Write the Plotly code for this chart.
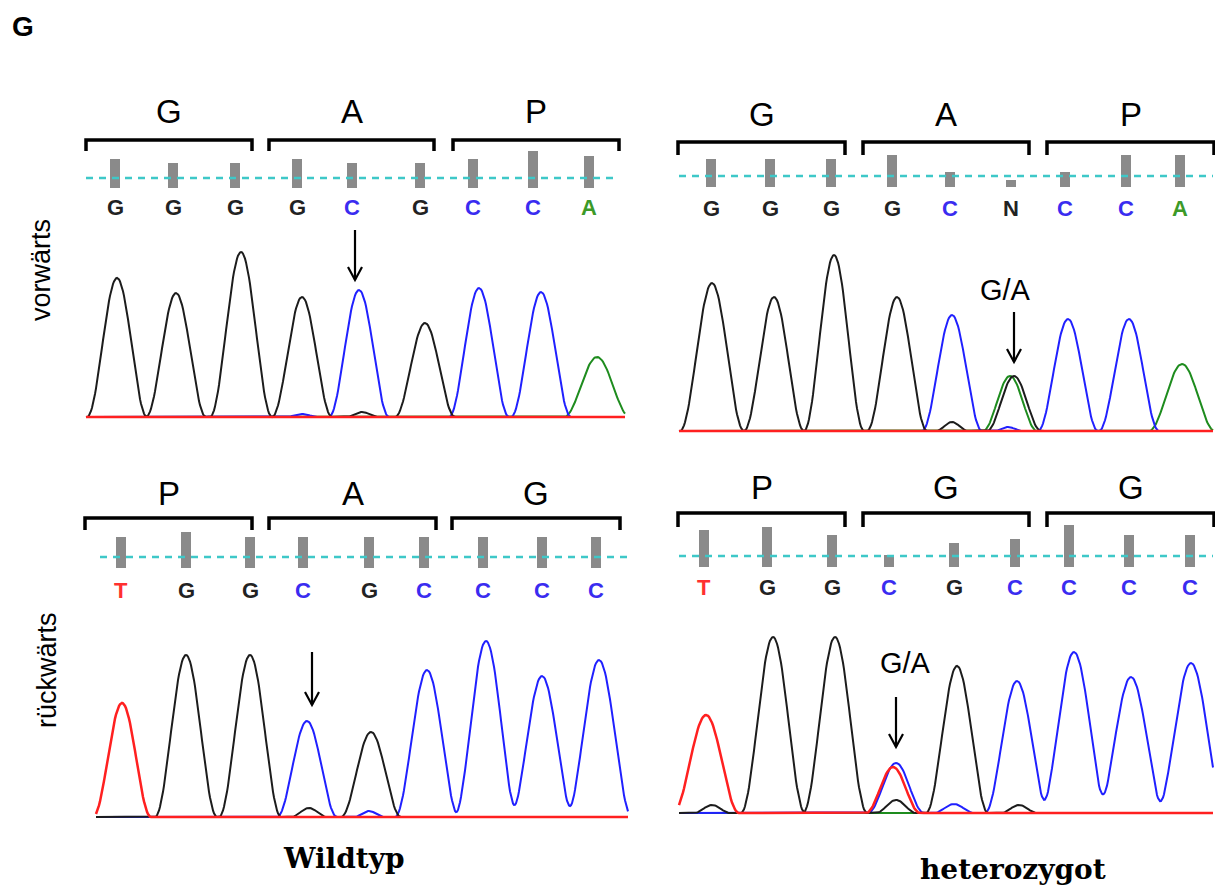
import numpy as np
import plotly.graph_objects as go

W, H = 1215, 888

# ---------------- data ----------------
# forward strand, wild type (top left)
fw_wt_bases = ["G", "G", "G", "G", "C", "G", "C", "C", "A"]
fw_wt_scan = [115, 173, 235, 297, 352, 420, 473, 533, 589]
fw_wt_quality = [29, 25, 25, 29, 25, 25, 29, 37, 32]
fw_wt_codons = ["G", "A", "P"]
fw_wt_codon_span = [[85, 253], [268, 435], [452, 620]]
# peaks: [scan position, signal, half width]
fw_wt_G = [[117, 139, 30], [176, 124, 30], [241, 165, 31], [302, 120, 30], [425, 94, 30], [362, 5, 16]]
fw_wt_C = [[359, 127, 30], [479, 129, 30], [541, 125, 30], [302, 3, 16]]
fw_wt_A = [[597, 60, 33]]
fw_wt_T = []

# forward strand, heterozygous (top right)
fw_het_bases = ["G", "G", "G", "G", "C", "N", "C", "C", "A"]
fw_het_scan = [711, 770, 831, 892, 950, 1011, 1065, 1126, 1180]
fw_het_quality = [28, 28, 28, 32, 15, 7, 15, 32, 32]
fw_het_codons = ["G", "A", "P"]
fw_het_codon_span = [[677, 846], [862, 1030], [1046, 1215]]
fw_het_G = [[712, 148, 32], [774, 134, 30], [834, 176, 30], [897, 134, 30], [1014, 55, 27], [952, 9, 16]]
fw_het_C = [[952, 116, 30], [1068, 112, 30], [1129, 112, 30], [1008, 4, 14]]
fw_het_A = [[1010, 55, 27], [1182, 67, 33]]
fw_het_T = []

# reverse strand, wild type (bottom left)
rv_wt_bases = ["T", "G", "G", "C", "G", "C", "C", "C", "C"]
rv_wt_scan = [121, 186, 250, 303, 369, 424, 483, 542, 596]
rv_wt_quality = [31, 36, 31, 31, 31, 31, 31, 31, 31]
rv_wt_codons = ["P", "A", "G"]
rv_wt_codon_span = [[84, 253], [268, 437], [451, 621]]
rv_wt_G = [[186, 162, 31], [250, 162, 31], [371, 85, 30], [309, 9, 18]]
rv_wt_C = [[307, 96, 30], [427, 147, 32], [486, 176, 32], [542, 141, 32], [599, 157, 33], [369, 6, 15]]
rv_wt_A = []
rv_wt_T = [[122, 114, 29]]

# reverse strand, heterozygous (bottom right)
rv_het_bases = ["T", "G", "G", "C", "G", "C", "C", "C", "C"]
rv_het_scan = [704, 767, 832, 889, 954, 1015, 1069, 1129, 1190]
rv_het_quality = [37, 40, 32, 12, 24, 28, 42, 32, 32]
rv_het_codons = ["P", "G", "G"]
rv_het_codon_span = [[677, 846], [862, 1030], [1046, 1215]]
rv_het_G = [[773, 176, 32], [835, 176, 32], [957, 147, 31], [712, 8, 18], [1019, 8, 18], [896, 13, 20]]
rv_het_C = [[896, 50, 28], [1017, 132, 32], [1074, 161, 34], [1131, 136, 34], [1191, 150, 35], [954, 9, 20]]
rv_het_A = []
rv_het_T = [[706, 98, 33], [893, 46, 27]]

# ---------------- layout / style ----------------
panels = [
    dict(bases=fw_wt_bases, scan=fw_wt_scan, qual=fw_wt_quality, codons=fw_wt_codons,
         spans=fw_wt_codon_span, G=fw_wt_G, C=fw_wt_C, A=fw_wt_A, T=fw_wt_T,
         dx=[78, 632], dy=[88, 432], base=417, trace=[86, 625], bar_bot=188, dash_y=178,
         dash_x=[86, 613], letter_y=207, br_top=140, br_bot=151, label_y=112,
         arrow=(355, 230, 280), ga=None),
    dict(bases=fw_het_bases, scan=fw_het_scan, qual=fw_het_quality, codons=fw_het_codons,
         spans=fw_het_codon_span, G=fw_het_G, C=fw_het_C, A=fw_het_A, T=fw_het_T,
         dx=[670, 1215], dy=[88, 440], base=431, trace=[679, 1213], bar_bot=187, dash_y=176,
         dash_x=[679, 1213], letter_y=208, br_top=142, br_bot=155, label_y=115,
         arrow=(1014, 312, 362), ga=(1005, 290)),
    dict(bases=rv_wt_bases, scan=rv_wt_scan, qual=rv_wt_quality, codons=rv_wt_codons,
         spans=rv_wt_codon_span, G=rv_wt_G, C=rv_wt_C, A=rv_wt_A, T=rv_wt_T,
         dx=[78, 632], dy=[470, 828], base=817, trace=[96, 628], bar_bot=568, dash_y=557,
         dash_x=[100, 628], letter_y=590, br_top=518, br_bot=530, label_y=493,
         arrow=(312, 652, 705), ga=None),
    dict(bases=rv_het_bases, scan=rv_het_scan, qual=rv_het_quality, codons=rv_het_codons,
         spans=rv_het_codon_span, G=rv_het_G, C=rv_het_C, A=rv_het_A, T=rv_het_T,
         dx=[670, 1215], dy=[470, 828], base=813, trace=[679, 1213], bar_bot=567, dash_y=556,
         dash_x=[679, 1213], letter_y=587, br_top=513, br_bot=527, label_y=487,
         arrow=(896, 697, 747), ga=(905, 663)),
]

trace_colors = {"G": "#1c1c1c", "C": "#2020ff", "A": "#1e8c1e", "T": "#ff2020"}
letter_colors = {"G": "#222222", "C": "#3a2cf0", "A": "#3c9a28", "T": "#ff3030", "N": "#222222"}
FONT = "Arial, Liberation Sans, sans-serif"


def channel(xs, peaks):
    y = np.zeros_like(xs, dtype=float)
    for c, h, w in peaks:
        d = np.abs(xs - c)
        m = d < w
        y[m] += h * np.cos(np.pi * d[m] / (2 * w)) ** 2
    return y


fig = go.Figure()
shapes, annotations = [], []
layout_axes = {}

for i, p in enumerate(panels, start=1):
    sfx = "" if i == 1 else str(i)
    xr, yr = "x" + sfx, "y" + sfx
    b = p["base"]
    layout_axes["xaxis" + sfx] = dict(domain=[p["dx"][0] / W, p["dx"][1] / W], range=p["dx"],
                                      visible=False, fixedrange=True, anchor=yr)
    layout_axes["yaxis" + sfx] = dict(domain=[1 - p["dy"][1] / H, 1 - p["dy"][0] / H],
                                      range=[b - p["dy"][1], b - p["dy"][0]],
                                      visible=False, fixedrange=True, anchor=xr)

    # quality bars
    fig.add_trace(go.Bar(x=p["scan"], y=p["qual"], base=b - p["bar_bot"], width=10,
                         marker=dict(color="#8a8a8a", line=dict(width=0)),
                         xaxis=xr, yaxis=yr, showlegend=False, hoverinfo="skip"))

    # chromatogram channels
    xs = np.arange(p["trace"][0], p["trace"][1] + 0.5, 1.0)
    for ch in ["A", "C", "G", "T"]:
        fig.add_trace(go.Scatter(x=xs, y=channel(xs, p[ch]), mode="lines",
                                 line=dict(color=trace_colors[ch], width=2.5 if ch == "T" else 2),
                                 xaxis=xr, yaxis=yr, showlegend=False, hoverinfo="skip"))

    # quality threshold line
    shapes.append(dict(type="line", xref=xr, yref=yr, x0=p["dash_x"][0], x1=p["dash_x"][1],
                       y0=b - p["dash_y"], y1=b - p["dash_y"],
                       line=dict(color="#3ec8c8", width=2.5, dash="7px,6px")))

    # base call letters
    for s, base_ch in zip(p["scan"], p["bases"]):
        annotations.append(dict(x=s, y=b - p["letter_y"], xref=xr, yref=yr, text="<b>%s</b>" % base_ch,
                                xanchor="center", yanchor="middle", showarrow=False,
                                font=dict(family=FONT, size=22, color=letter_colors[base_ch])))

    # codon brackets and amino-acid labels
    for (x0, x1), aa in zip(p["spans"], p["codons"]):
        yt, yb = b - p["br_top"], b - p["br_bot"]
        shapes.append(dict(type="path", xref=xr, yref=yr,
                           path="M %g,%g L %g,%g L %g,%g L %g,%g" % (x0 + 1, yb, x0 + 1, yt, x1 - 1, yt, x1 - 1, yb),
                           line=dict(color="black", width=3.5)))
        annotations.append(dict(x=(x0 + x1) / 2, y=b - p["label_y"], xref=xr, yref=yr, text=aa,
                                xanchor="center", yanchor="middle", showarrow=False,
                                font=dict(family=FONT, size=33, color="black")))

    # arrow
    ax_, y_tail, y_tip = p["arrow"]
    shapes.append(dict(type="line", xref=xr, yref=yr, x0=ax_, x1=ax_, y0=b - y_tail, y1=b - y_tip,
                       line=dict(color="black", width=2.2)))
    shapes.append(dict(type="path", xref=xr, yref=yr,
                       path="M %g,%g L %g,%g L %g,%g" % (ax_ - 7, b - y_tip + 13, ax_, b - y_tip, ax_ + 7, b - y_tip + 13),
                       line=dict(color="black", width=2.2)))
    if p["ga"]:
        annotations.append(dict(x=p["ga"][0], y=b - p["ga"][1], xref=xr, yref=yr, text="G/A",
                                xanchor="center", yanchor="middle", showarrow=False,
                                font=dict(family=FONT, size=29, color="black")))

# global labels
glob = dict(xref="paper", yref="paper", xanchor="center", yanchor="middle", showarrow=False)
annotations += [
    dict(x=23 / W, y=1 - 27 / H, text="<b>G</b>", font=dict(family=FONT, size=28, color="black"), **glob),
    dict(x=41 / W, y=1 - 270 / H, text="vorwärts", textangle=-90,
         font=dict(family=FONT, size=27, color="black"), **glob),
    dict(x=47 / W, y=1 - 670 / H, text="rückwärts", textangle=-90,
         font=dict(family=FONT, size=27, color="black"), **glob),
    dict(x=344 / W, y=1 - 858 / H, text="<b>Wildtyp</b>",
         font=dict(family="DejaVu Serif, serif", size=28, color="black"), **glob),
    dict(x=1013 / W, y=1 - 869 / H, text="<b>heterozygot</b>",
         font=dict(family="DejaVu Serif, serif", size=28, color="black"), **glob),
]

fig.update_layout(width=W, height=H, margin=dict(l=0, r=0, t=0, b=0),
                  paper_bgcolor="white", plot_bgcolor="rgba(0,0,0,0)",
                  barmode="overlay", shapes=shapes, annotations=annotations,
                  showlegend=False, **layout_axes)

fig.write_html("out.html", config={"displayModeBar": False})
